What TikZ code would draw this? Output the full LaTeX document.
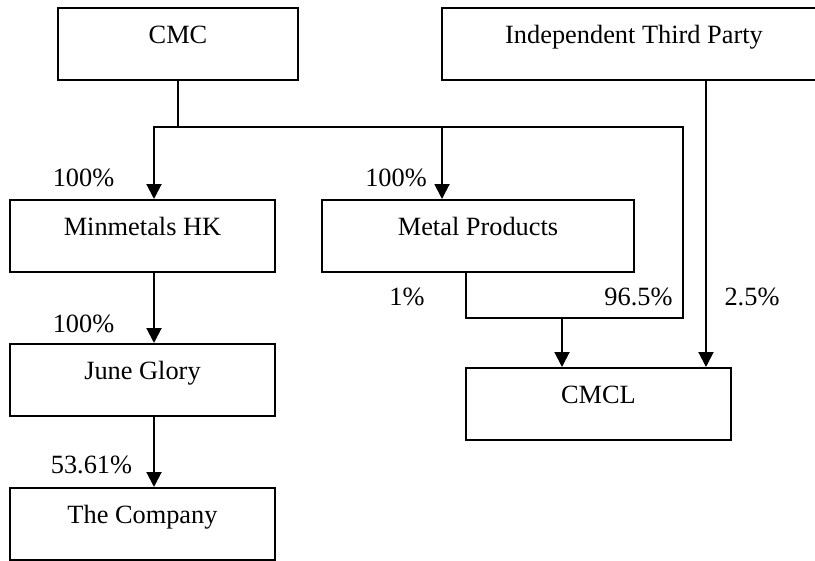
\documentclass[tikz,border=0pt]{standalone}
\usepackage{fontspec}
\setmainfont{Liberation Serif}
\usetikzlibrary{arrows.meta}
\tikzset{
  entity/.style={draw, line width=1.1pt, inner sep=0pt, minimum width=5.3cm,
    text height=0.72cm, text depth=0.72cm, anchor=north},
  share/.style={inner sep=0pt, anchor=base},
  link/.style={line width=1.1pt},
  own/.style={link, -{Triangle[width=0.3cm, length=0.3cm]}}
}

\begin{document}
\begin{tikzpicture}[x=0.02cm, y=-0.02cm, font=\fontsize{15}{18}\selectfont]
        \useasboundingbox (0, 0) rectangle (815, 561);

        % companies
        \node [entity, minimum width=4.8cm] (cmc) at (178, 7) {CMC};
        \node [entity, minimum width=7.68cm] (itp) at (634, 7) {Independent Third Party};
        \node [entity] (hk) at (142.5, 199) {Minmetals HK};
        \node [entity, minimum width=6.24cm] (mp) at (478, 199) {Metal Products};
        \node [entity] (jg) at (142.5, 343) {June Glory};
        \node [entity] (co) at (142.5, 487) {The Company};
        \node [entity] (cmcl) at (598.5, 367) {CMCL};

        % holdings
        \coordinate (split) at (178, 127);
        \coordinate (east) at (683, 127);
        \coordinate (join) at (562, 318);
        \coordinate (itpdrop) at ([xshift=1.44cm]itp.south);

        \draw [link] (cmc.south) -- (split);
        \draw [own] (split) -| ([xshift=0.23cm]hk.north);
        \draw [own] (split) -| ([xshift=-0.72cm]mp.north);
        \draw [link] (split) -- (east) |- (join);
        \draw [link] ([xshift=-0.24cm]mp.south) |- (join);
        \draw [own] (join) -- (join |- cmcl.north);
        \draw [own] (itpdrop) -- (itpdrop |- cmcl.north);
        \draw [own] ([xshift=0.23cm]hk.south) -- ([xshift=0.23cm]jg.north);
        \draw [own] ([xshift=0.23cm]jg.south) -- ([xshift=0.23cm]co.north);

        \node [share] (hkpct) at (83.5, 186) {100\%};
        \node [share] (mppct) at (396, 186) {100\%};
        \node [share] (jgpct) at (83.5, 332) {100\%};
        \node [share] (copct) at (91.5, 473) {53.61\%};
        \node [share] (mpcmcl) at (407, 305) {1\%};
        \node [share] (cmccmcl) at (638.5, 305) {96.5\%};
        \node [share] (itpcmcl) at (752, 305) {2.5\%};
      \end{tikzpicture}
\end{document}
